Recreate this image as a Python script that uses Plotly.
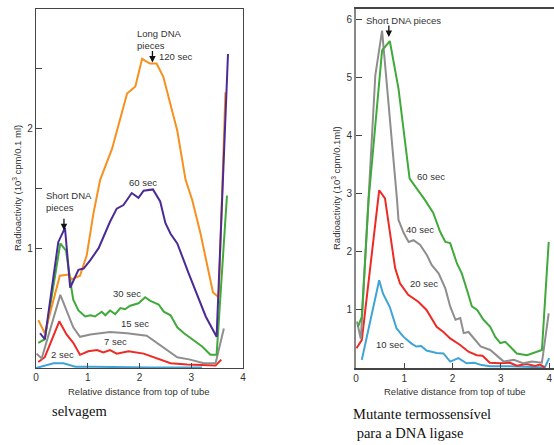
import plotly.graph_objects as go

# wild type (selvagem) -- relative distance vs radioactivity (10^3 cpm/0.1 ml)
wt_120_x = [0.045, 0.17, 0.46, 0.63, 0.69, 0.85, 0.98, 1.11, 1.24, 1.47, 1.76, 1.92, 2.05, 2.2, 2.33,
            2.46, 2.73, 2.89, 3.02, 3.18, 3.42, 3.53, 3.66]
wt_120_y = [0.40, 0.29, 0.77, 0.78, 0.74, 0.77, 0.94, 1.29, 1.57, 1.83, 2.29, 2.35, 2.58, 2.54, 2.54,
            2.43, 1.98, 1.57, 1.40, 1.12, 0.63, 0.59, 2.30]
wt_60_x = [0.078, 0.17, 0.43, 0.56, 0.66, 0.82, 0.92, 1.05, 1.21, 1.43, 1.56, 1.69, 1.85, 1.98, 2.08,
           2.26, 2.4, 2.5, 2.6, 2.73, 2.95, 3.11, 3.28, 3.49, 3.71]
wt_60_y = [0.29, 0.24, 1.05, 1.17, 0.67, 0.82, 0.83, 0.90, 1.00, 1.22, 1.33, 1.36, 1.46, 1.42, 1.48,
           1.49, 1.39, 1.21, 1.12, 1.04, 0.79, 0.62, 0.43, 0.26, 2.62]
wt_30_x = [0.045, 0.17, 0.47, 0.58, 0.69, 0.72, 0.82, 0.95, 1.05, 1.14, 1.27, 1.34, 1.43, 1.53, 1.63,
           1.72, 1.82, 1.98, 2.11, 2.21, 2.37, 2.47, 2.6, 2.73, 2.86, 3.05, 3.21, 3.37, 3.49, 3.69]
wt_30_y = [0.21, 0.24, 1.04, 0.98, 0.65, 0.57, 0.48, 0.43, 0.44, 0.43, 0.47, 0.44, 0.48, 0.45, 0.50,
           0.49, 0.52, 0.54, 0.59, 0.56, 0.53, 0.47, 0.44, 0.34, 0.29, 0.23, 0.18, 0.11, 0.11, 1.44]
wt_15_x = [0.01, 0.11, 0.47, 0.59, 0.72, 0.85, 1.05, 1.43, 1.76, 2.14, 2.34, 2.53, 2.73, 2.98, 3.24,
           3.47, 3.63]
wt_15_y = [0.12, 0.08, 0.61, 0.48, 0.34, 0.26, 0.28, 0.30, 0.29, 0.27, 0.21, 0.15, 0.09, 0.07, 0.04,
           0.04, 0.33]
wt_7_x = [0.045, 0.17, 0.45, 0.59, 0.72, 0.85, 1.01, 1.18, 1.3, 1.43, 1.56, 1.79, 2.08, 2.34, 2.6,
          2.92, 3.18, 3.47, 3.58]
wt_7_y = [0.05, 0.09, 0.39, 0.28, 0.21, 0.11, 0.14, 0.15, 0.13, 0.15, 0.12, 0.14, 0.12, 0.08, 0.04,
          0.03, 0.025, 0.02, 0.07]
wt_2_x = [0.0, 0.34, 0.53, 0.76, 1.1, 1.6, 2.2, 2.8, 3.21]
wt_2_y = [0.0, 0.04, 0.04, 0.01, 0.01, 0.005, 0.005, 0.005, 0.005]

# ligase ts mutant (mutante termossensivel)
mt_60_x = [0.04, 0.12, 0.26, 0.54, 0.7, 0.88, 1.11, 1.43, 1.6, 1.74, 1.85, 1.95, 2.09, 2.19, 2.3,
           2.4, 2.51, 2.64, 2.78, 2.88, 2.99, 3.09, 3.19, 3.33, 3.54, 3.75, 3.85, 3.99]
mt_60_y = [0.71, 0.88, 2.89, 5.47, 5.63, 4.81, 3.26, 2.89, 2.67, 2.35, 2.17, 2.15, 1.80, 1.63, 1.34,
           1.06, 1.00, 0.83, 0.71, 0.54, 0.43, 0.45, 0.37, 0.25, 0.22, 0.28, 0.31, 2.17]
mt_40_x = [0.02, 0.1, 0.4, 0.54, 0.85, 0.88, 0.99, 1.09, 1.19, 1.33, 1.47, 1.57, 1.71, 1.85, 1.95,
           2.06, 2.16, 2.23, 2.33, 2.44, 2.58, 2.78, 2.95, 3.06, 3.27, 3.47, 3.64, 3.85, 3.99]
mt_40_y = [0.80, 0.50, 5.04, 5.81, 2.89, 2.55, 2.32, 2.17, 2.20, 2.12, 1.94, 1.77, 1.63, 1.37, 1.06,
           0.83, 0.86, 0.60, 0.62, 0.51, 0.37, 0.31, 0.19, 0.11, 0.14, 0.08, 0.11, 0.09, 0.94]
mt_20_x = [0.01, 0.12, 0.48, 0.6, 0.81, 0.91, 1.08, 1.29, 1.46, 1.67, 1.81, 1.95, 2.15, 2.33, 2.5,
           2.62, 2.77, 2.98, 3.19, 3.33, 3.53, 3.71, 3.81, 3.91]
mt_20_y = [0.34, 0.48, 3.06, 2.92, 1.72, 1.46, 1.26, 1.14, 1.00, 0.71, 0.62, 0.51, 0.40, 0.28, 0.22,
           0.21, 0.09, 0.08, 0.09, 0.04, 0.07, 0.035, 0.06, 0.01]
mt_10_x = [0.12, 0.48, 0.56, 0.7, 0.84, 0.98, 1.15, 1.25, 1.35, 1.46, 1.67, 1.81, 1.95, 2.12, 2.29,
           2.45, 2.6, 2.78, 3.2, 3.74, 3.91, 4.0]
mt_10_y = [0.14, 1.51, 1.28, 1.05, 0.68, 0.54, 0.42, 0.37, 0.38, 0.30, 0.26, 0.25, 0.11, 0.17, 0.08,
           0.09, 0.05, 0.03, 0.03, 0.02, 0.01, 0.17]

ORANGE = "#f7901e"
PURPLE = "#4b2a96"
GREEN = "#3faa3a"
GRAY = "#8e8e8e"
RED = "#ee2a24"
BLUE = "#3fa3d6"

wt_series = [
    (wt_2_x, wt_2_y, BLUE),
    (wt_7_x, wt_7_y, RED),
    (wt_15_x, wt_15_y, GRAY),
    (wt_30_x, wt_30_y, GREEN),
    (wt_120_x, wt_120_y, ORANGE),
    (wt_60_x, wt_60_y, PURPLE),
]
mt_series = [
    (mt_10_x, mt_10_y, BLUE),
    (mt_20_x, mt_20_y, RED),
    (mt_40_x, mt_40_y, GRAY),
    (mt_60_x, mt_60_y, GREEN),
]

W, H = 554, 445
LABEL_FONT = {"family": "Liberation Sans, Arial, sans-serif", "size": 9.5, "color": "#333"}
TICK_FONT = {"family": "Liberation Sans, Arial, sans-serif", "size": 10, "color": "#333"}
CAPTION_FONT = {"family": "Liberation Serif, Times New Roman, serif", "size": 14.5, "color": "#111"}

fig = go.Figure()
for xs, ys, color in wt_series:
    fig.add_trace(go.Scatter(x=xs, y=ys, mode="lines", line={"color": color, "width": 2},
                             xaxis="x", yaxis="y", showlegend=False, hoverinfo="skip"))
for xs, ys, color in mt_series:
    fig.add_trace(go.Scatter(x=xs, y=ys, mode="lines", line={"color": color, "width": 2},
                             xaxis="x2", yaxis="y2", showlegend=False, hoverinfo="skip"))


def px_x(p):
    # window pixel -> paper fraction
    return p / W


def px_y(p):
    return (H - p) / H


y_dom = [px_y(368), px_y(8.5)]
common_x = dict(showgrid=False, zeroline=False, showline=True, ticks="inside", ticklen=5,
                tickwidth=1, tickcolor="#444", tickfont=TICK_FONT, tickvals=[0, 1, 2, 3, 4],
                automargin=False, ticklabeloverflow="allow")
common_y = dict(showgrid=False, zeroline=False, showline=True, automargin=False,
                ticks="inside", ticklen=6, tickwidth=1.2, tickcolor="#444", tickfont=TICK_FONT)
fig.update_layout(
    width=W, height=H,
    margin={"l": 0, "r": 0, "t": 0, "b": 0},
    paper_bgcolor="white", plot_bgcolor="white",
    xaxis=dict(common_x, domain=[px_x(36), px_x(243)], range=[0, 4], anchor="y",
               linecolor="#444", linewidth=1.3, mirror=True),
    yaxis=dict(common_y, domain=y_dom, range=[0, 3], anchor="x",
               linecolor="#444", linewidth=1.3, mirror=True,
               tickvals=[0.5, 1, 1.5, 2, 2.5], ticktext=["", "1", "", "2", ""]),
    xaxis2=dict(common_x, domain=[px_x(356), 1.0], range=[0, 4.1], anchor="y2",
                linecolor="#444", linewidth=1.5, mirror=True),
    yaxis2=dict(common_y, domain=y_dom, range=[0, 6.19], anchor="x2",
                linecolor="#888", linewidth=2, tickvals=[1, 2, 3, 4, 5, 6]),
)

# curve labels, left panel
left_labels = [
    ("60 sec", 2.07, 1.55, "center"),
    ("30 sec", 1.76, 0.62, "center"),
    ("15 sec", 1.92, 0.37, "center"),
    ("7 sec", 1.53, 0.22, "center"),
    ("2 sec", 0.52, 0.11, "center"),
    ("120 sec", 2.33, 2.6, "left"),
    ("Long DNA<br>pieces", 1.92, 2.74, "left"),
    ("Short DNA<br>pieces", 0.155, 1.39, "left"),
]
for text, x, y, anchor in left_labels:
    fig.add_annotation(x=x, y=y, xref="x", yref="y", text=text, showarrow=False,
                       xanchor=anchor, yanchor="middle", align="left", font=LABEL_FONT)

right_labels = [
    ("Short DNA pieces", 0.99, 5.99),
    ("60 sec", 1.55, 3.30),
    ("40 sec", 1.33, 2.39),
    ("20 sec", 1.41, 1.45),
    ("10 sec", 0.70, 0.41),
]
for text, x, y in right_labels:
    fig.add_annotation(x=x, y=y, xref="x2", yref="y2", text=text, showarrow=False,
                       xanchor="center", yanchor="middle", font=LABEL_FONT)

# pointer arrows
for xref, yref, x, y in [("x", "y", 0.54, 1.15), ("x", "y", 2.25, 2.55), ("x2", "y2", 0.68, 5.7)]:
    fig.add_annotation(x=x, y=y, xref=xref, yref=yref, text="", showarrow=True,
                       ax=0, ay=-13, arrowhead=2, arrowsize=1, arrowwidth=1.3, arrowcolor="#111")

# axis titles
for cx in (139, 455):
    fig.add_annotation(x=px_x(cx), y=px_y(391), xref="paper", yref="paper",
                       xanchor="center", yanchor="middle",
                       text="Relative distance from top of tube", showarrow=False, font=LABEL_FONT)
fig.add_annotation(x=px_x(17), y=px_y(188), xref="paper", yref="paper", textangle=-90,
                   xanchor="center", yanchor="middle",
                   text="Radioactivity (10<sup>3</sup> cpm/0.1 ml)", showarrow=False, font=LABEL_FONT)
fig.add_annotation(x=px_x(336), y=px_y(188), xref="paper", yref="paper", textangle=-90,
                   xanchor="center", yanchor="middle",
                   text="Radioactivity (10<sup>3</sup> cpm/0.1ml)", showarrow=False, font=LABEL_FONT)

# captions
fig.add_annotation(x=px_x(50), y=px_y(411), xref="paper", yref="paper", xanchor="left",
                   yanchor="middle", text="selvagem", showarrow=False, font=CAPTION_FONT)
fig.add_annotation(x=px_x(351), y=px_y(423), xref="paper", yref="paper", xanchor="left",
                   yanchor="middle", align="left",
                   text="Mutante termossensível<br> para a DNA ligase",
                   showarrow=False, font=CAPTION_FONT)

# drop the browser's default body margin so the figure sits at the window corner
fig.write_html("out.html", config={"displayModeBar": False},
               post_script="document.body.style.margin='0';document.body.style.overflow='hidden';")
